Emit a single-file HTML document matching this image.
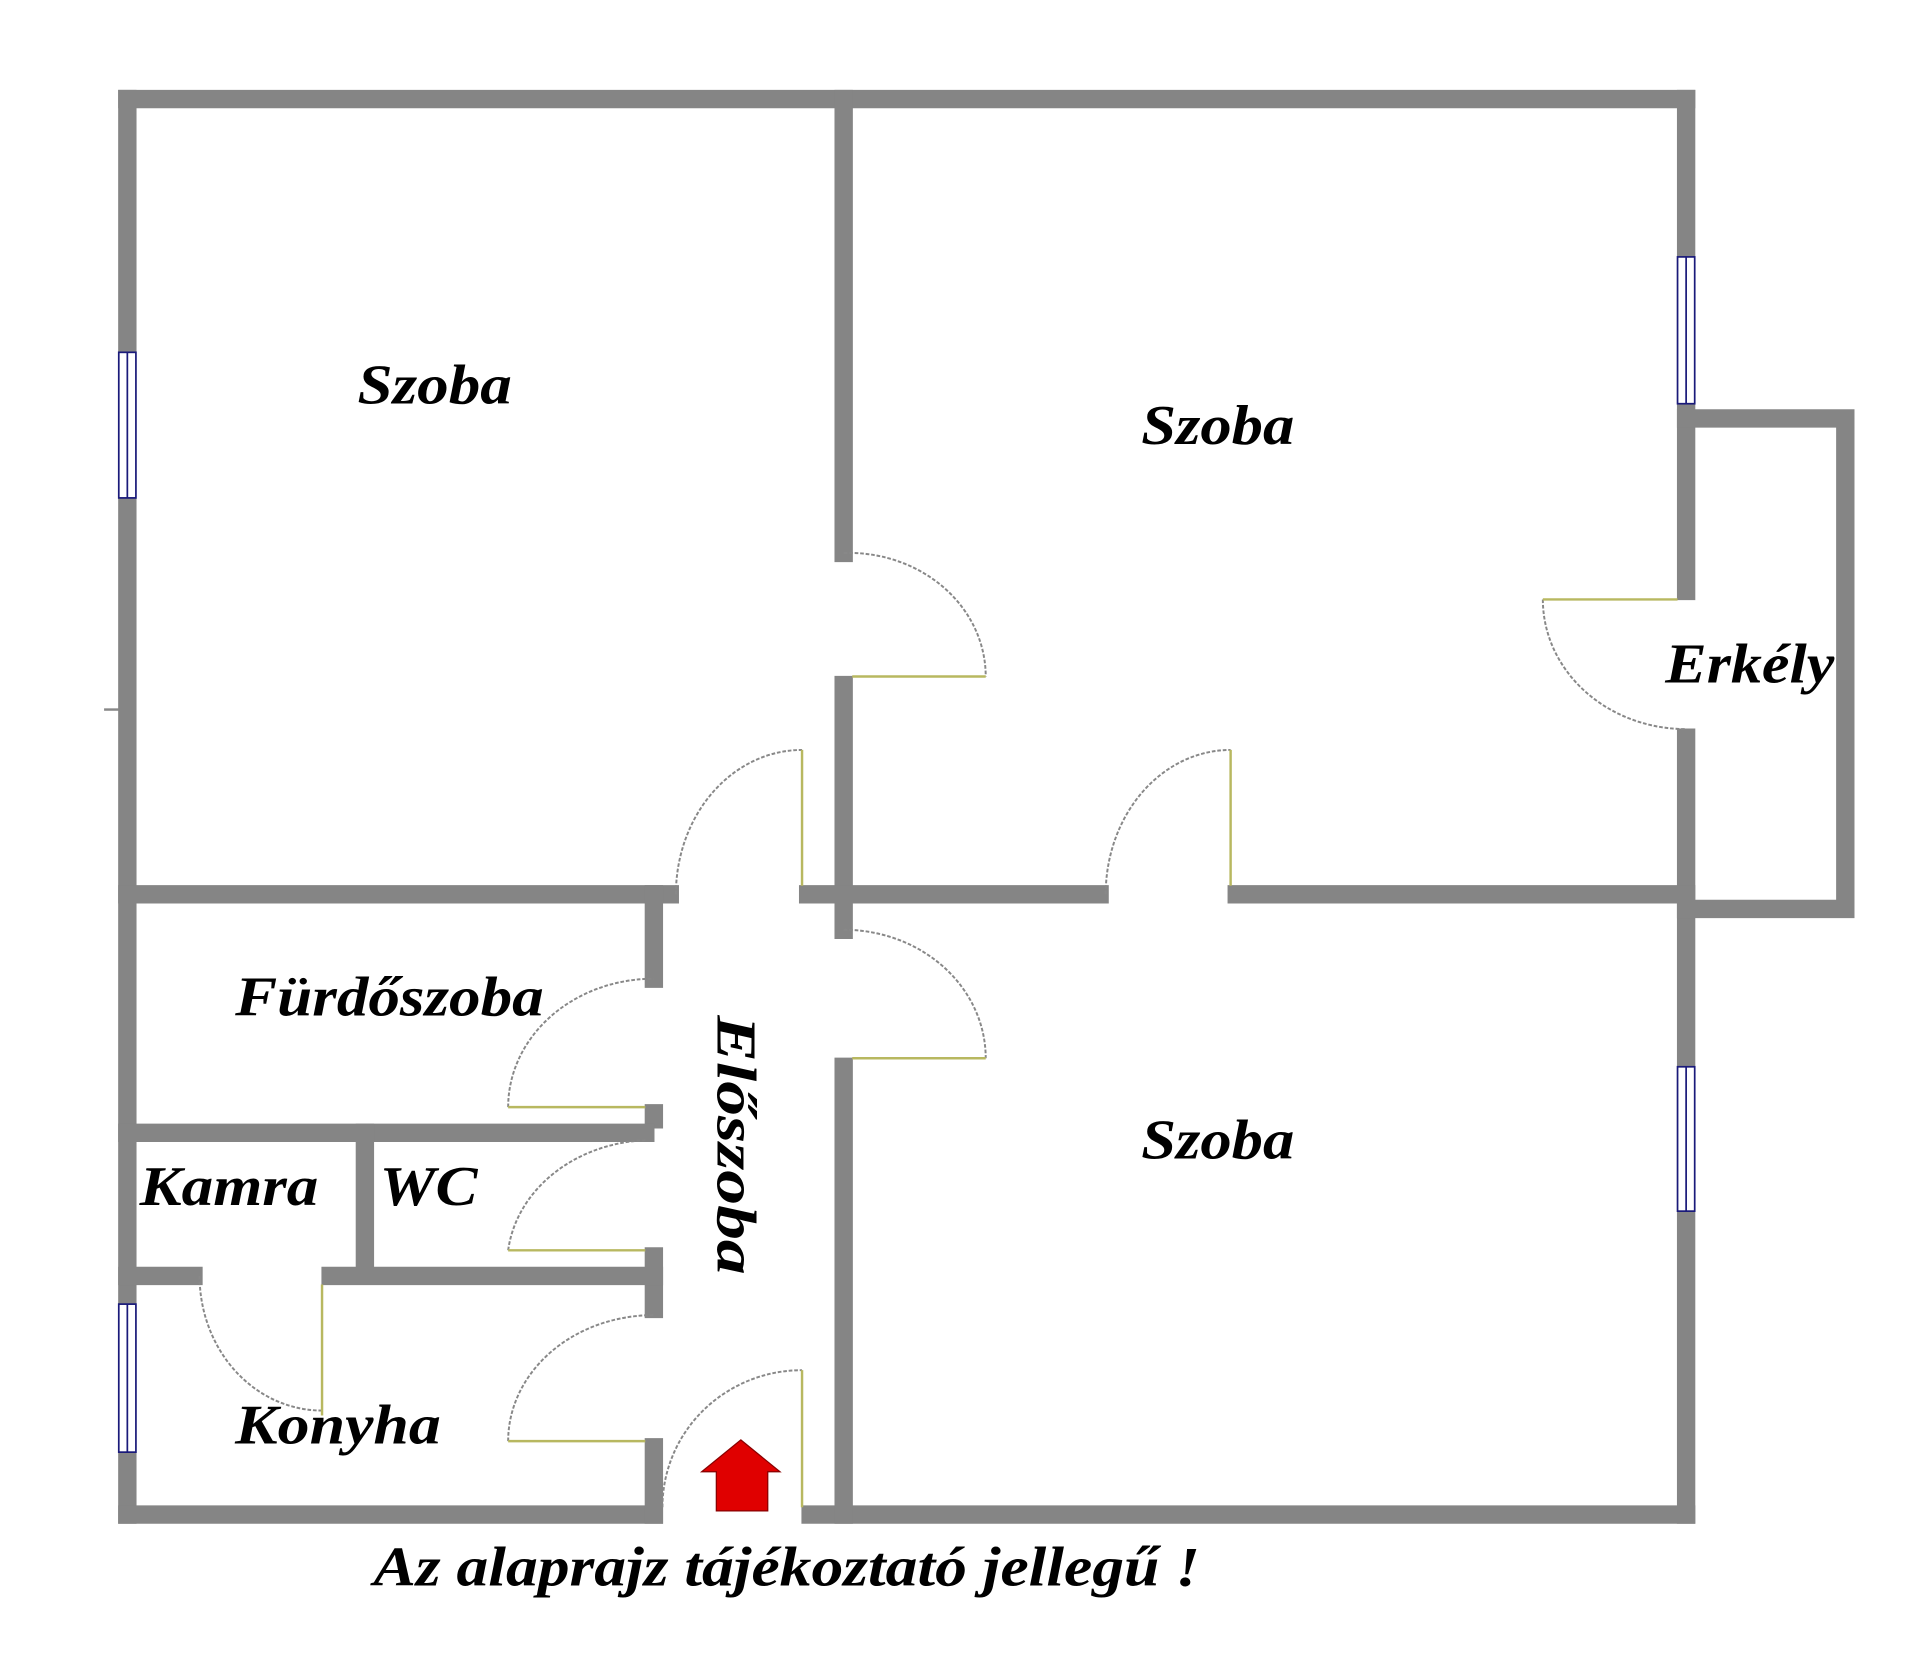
<!DOCTYPE html>
<html><head><meta charset="utf-8"><style>
html,body{margin:0;padding:0;background:#fff;width:1920px;height:1654px;overflow:hidden}
svg{display:block}
text{font-family:"Liberation Serif",serif;font-style:italic;font-weight:bold;fill:#000}
</style></head><body>
<svg width="1920" height="1654" viewBox="0 0 1568 1352" preserveAspectRatio="none">
<g stroke="#858585" stroke-width="15" fill="none" stroke-linecap="square">
<line x1="104" y1="81" x2="1377" y2="81"/>
<line x1="104" y1="81" x2="104" y2="1238"/>
<line x1="104" y1="1238" x2="534" y2="1238"/>
<line x1="662" y1="1238" x2="1377" y2="1238"/>
<line x1="1377" y1="81" x2="1377" y2="483"/>
<line x1="1377" y1="603" x2="1377" y2="1238"/>
<polyline points="1377,342 1507,342 1507,743 1377,743"/>
<line x1="689" y1="81" x2="689" y2="452"/>
<line x1="689" y1="560" x2="689" y2="760"/>
<line x1="689" y1="872" x2="689" y2="1238"/>
<line x1="104" y1="731" x2="547" y2="731"/>
<line x1="660" y1="731" x2="898" y2="731"/>
<line x1="1010" y1="731" x2="1377" y2="731"/>
<line x1="534" y1="731" x2="534" y2="800"/>
<line x1="534" y1="910" x2="534" y2="915"/>
<line x1="534" y1="1027" x2="534" y2="1070"/>
<line x1="534" y1="1183" x2="534" y2="1238"/>
<line x1="104" y1="926" x2="527" y2="926"/>
<line x1="298" y1="926" x2="298" y2="1036"/>
<line x1="270" y1="1043" x2="534" y2="1043"/>
<line x1="104" y1="1043" x2="158" y2="1043"/>
</g>
<g fill="none" stroke="#888" stroke-width="1.6" stroke-dasharray="3 1.5">
<path d="M689,452 A112,101 0 0 1 805,553"/>
<path d="M552,731 A103,118 0 0 1 655,613"/>
<path d="M903,731 A102,118 0 0 1 1005,613"/>
<path d="M1260,490 A117,106 0 0 0 1377,596"/>
<path d="M689,760 A116,105 0 0 1 805,865"/>
<path d="M415,905 A119,105 0 0 1 534,800"/>
<path d="M415,1022 A119,102 0 0 1 527,932"/>
<path d="M415,1178 A119,103 0 0 1 534,1075"/>
<path d="M541,1232 A114,112 0 0 1 655,1120"/>
<path d="M163,1043 A100,110 0 0 0 263,1153"/>
</g>
<g fill="none" stroke="#b8b860" stroke-width="2">
<line x1="696" y1="553" x2="805" y2="553"/>
<line x1="655" y1="613" x2="655" y2="724"/>
<line x1="1005" y1="613" x2="1005" y2="724"/>
<line x1="1260" y1="490" x2="1370" y2="490"/>
<line x1="696" y1="865" x2="805" y2="865"/>
<line x1="415" y1="905" x2="527" y2="905"/>
<line x1="415" y1="1022" x2="527" y2="1022"/>
<line x1="415" y1="1178" x2="527" y2="1178"/>
<line x1="655" y1="1120" x2="655" y2="1232"/>
<line x1="263" y1="1050" x2="263" y2="1157"/>
</g>
<g fill="#fff" stroke="#1a1a7a" stroke-width="1.4">
<rect x="97" y="288" width="14" height="119"/>
<line x1="104" y1="288" x2="104" y2="407"/>
<rect x="97" y="1066" width="14" height="121"/>
<line x1="104" y1="1066" x2="104" y2="1187"/>
<rect x="1370" y="210" width="14" height="120"/>
<line x1="1377" y1="210" x2="1377" y2="330"/>
<rect x="1370" y="872" width="14" height="118"/>
<line x1="1377" y1="872" x2="1377" y2="990"/>
</g>
<line x1="85" y1="580" x2="97" y2="580" stroke="#888" stroke-width="2"/>
<polygon points="605,1177 637,1203 627,1203 627,1235 585,1235 585,1203 573,1203" fill="#e00000" stroke="#800" stroke-width="1"/>
<g font-size="46">
<text x="292" y="330" textLength="126" lengthAdjust="spacingAndGlyphs">Szoba</text>
<text x="932" y="363" textLength="125" lengthAdjust="spacingAndGlyphs">Szoba</text>
<text x="932" y="947" textLength="125" lengthAdjust="spacingAndGlyphs">Szoba</text>
<text x="1360" y="558" textLength="138" lengthAdjust="spacingAndGlyphs">Erkély</text>
<text x="192" y="830" textLength="252" lengthAdjust="spacingAndGlyphs">Fürdőszoba</text>
<text x="114" y="985" textLength="146" lengthAdjust="spacingAndGlyphs">Kamra</text>
<text x="310" y="985" textLength="80" lengthAdjust="spacingAndGlyphs">WC</text>
<text x="192" y="1180" textLength="168" lengthAdjust="spacingAndGlyphs">Konyha</text>
<text x="305" y="1296" textLength="675" lengthAdjust="spacingAndGlyphs">Az alaprajz tájékoztató jellegű !</text>
<text transform="translate(586,830) rotate(90)" textLength="212" lengthAdjust="spacingAndGlyphs">Előszoba</text>
</g>
</svg>
</body></html>
